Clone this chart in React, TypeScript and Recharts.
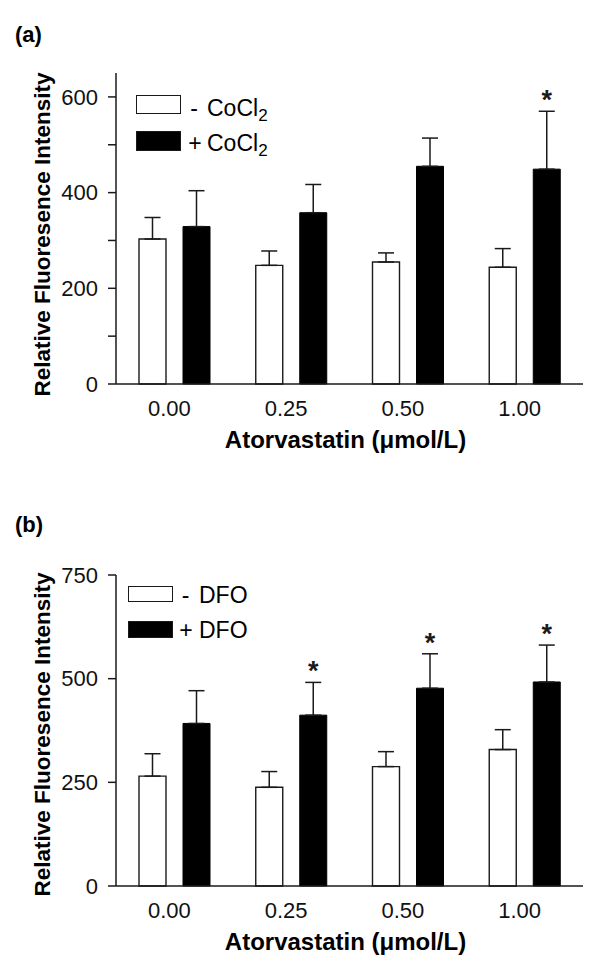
import React from 'react';
import { BarChart, Bar, XAxis, YAxis, ErrorBar, LabelList, Legend } from 'recharts';

// ---------- data ----------
const categories = ['0.00', '0.25', '0.50', '1.00'];

const cocl2Minus = [303, 248, 255, 244];
const cocl2MinusErr = [45, 30, 19, 39];
const cocl2Plus = [329, 358, 455, 449];
const cocl2PlusErr = [75, 59, 59, 121];
const cocl2Sig = [false, false, false, true];

const dfoMinus = [265, 238, 288, 329];
const dfoMinusErr = [54, 38, 36, 48];
const dfoPlus = [392, 412, 477, 492];
const dfoPlusErr = [79, 79, 83, 89];
const dfoSig = [false, true, true, true];

const yTicksA = [0, 100, 200, 300, 400, 500, 600];
const yLabelsA = [0, 200, 400, 600];
const yTicksB = [0, 250, 500, 750];
const yLabelsB = [0, 250, 500, 750];

const legendA = { minus: '-', plus: '+', name: 'CoCl', sub: '2' };
const legendB = { minus: '-', plus: '+', name: 'DFO', sub: '' };

// ---------- helpers ----------
const FONT = '"Liberation Sans", Arial, Helvetica, sans-serif';
const INK = '#1a1a1a';

function buildRows(minus: number[], minusErr: number[], plus: number[], plusErr: number[]) {
  return categories.map((cat, i) => ({
    cat,
    minus: minus[i],
    plus: plus[i],
    minusErr: [0, minusErr[i]],
    plusErr: [0, plusErr[i]],
  }));
}

function starRenderer(errs: number[], sig: boolean[]) {
  return (props: any) => {
    const vb = props.viewBox || {};
    const x = props.x ?? vb.x;
    const y = props.y ?? vb.y;
    const width = props.width ?? vb.width;
    const height = props.height ?? vb.height;
    const index = props.index;
    const value = props.value;
    if (index == null || !sig[index] || !value) return null;
    const pxPerUnit = Math.abs(height) / value;
    const capY = y - errs[index] * pxPerUnit;
    return (
      <text
        x={x + width / 2}
        y={capY - 2}
        textAnchor="middle"
        fontSize={27}
        fontWeight="bold"
        fontFamily={FONT}
        fill={INK}
      >
        *
      </text>
    );
  };
}

type LegendCfg = {
  boxLeft: number;
  boxW: number;
  row1Top: number;
  row1H: number;
  row2Top: number;
  row2H: number;
  textCenter1: number;
  textCenter2: number;
  minusCenter: number;
  plusCenter: number;
  nameLeft: number;
};

function makeLegend(labels: typeof legendA, cfg: LegendCfg) {
  return () => {
    const rows = [
      { fill: '#fff', top: cfg.row1Top, h: cfg.row1H, sign: labels.minus, sc: cfg.minusCenter, tc: cfg.textCenter1 },
      { fill: '#000', top: cfg.row2Top, h: cfg.row2H, sign: labels.plus, sc: cfg.plusCenter, tc: cfg.textCenter2 },
    ];
    return (
      <div style={{ position: 'relative', width: 600, height: 0, fontFamily: FONT, color: '#000' }}>
        {rows.map((r, i) => (
          <React.Fragment key={i}>
            <div
              style={{
                position: 'absolute',
                left: cfg.boxLeft,
                top: r.top,
                width: cfg.boxW,
                height: r.h,
                boxSizing: 'border-box',
                background: r.fill,
                border: `1.5px solid ${INK}`,
              }}
            />
            <div
              style={{
                position: 'absolute',
                left: r.sc - 15,
                width: 30,
                top: r.tc - 12,
                lineHeight: '24px',
                fontSize: 23,
                textAlign: 'center',
                whiteSpace: 'nowrap',
              }}
            >
              {r.sign}
            </div>
            <div
              style={{
                position: 'absolute',
                left: cfg.nameLeft,
                top: r.tc - 12,
                lineHeight: '24px',
                fontSize: 23,
                whiteSpace: 'nowrap',
              }}
            >
              {labels.name}
              {labels.sub ? (
                <span style={{ fontSize: 17, position: 'relative', top: 5 }}>{labels.sub}</span>
              ) : null}
            </div>
          </React.Fragment>
        ))}
      </div>
    );
  };
}

type PanelProps = {
  rows: any[];
  plusErrs: number[];
  sig: boolean[];
  yMax: number;
  yTicks: number[];
  yLabels: number[];
  legendLabels: typeof legendA;
  legendCfg: LegendCfg;
  yLabelShift: number;
};

function Panel({ rows, plusErrs, sig, yMax, yTicks, yLabels, legendLabels, legendCfg, yLabelShift }: PanelProps) {
  const tickStyle = { fontSize: 22, fill: '#111', fontFamily: FONT };
  const renderYLabel = (p: any) => {
    const vb = p.viewBox;
    const cx = vb.x + 42;
    const cy = vb.y + vb.height / 2 + yLabelShift;
    return (
      <text
        x={cx}
        y={cy}
        transform={`rotate(-90, ${cx}, ${cy})`}
        textAnchor="middle"
        dy="0.35em"
        fontSize={22.5}
        fontWeight="bold"
        fontFamily={FONT}
        fill="#000"
      >
        Relative Fluoresence Intensity
      </text>
    );
  };
  const renderXLabel = (p: any) => {
    const vb = p.viewBox;
    return (
      <text
        x={vb.x + vb.width / 2 - 4}
        y={vb.y + 56}
        dy="0.35em"
        textAnchor="middle"
        fontSize={24}
        fontWeight="bold"
        fontFamily={FONT}
        fill="#000"
      >
        Atorvastatin (μmol/L)
      </text>
    );
  };
  return (
    <BarChart
      width={600}
      height={470}
      data={rows}
      margin={{ top: 73, right: 17, bottom: 0, left: 0 }}
      barSize={27}
      barGap={17}
    >
      <XAxis
        dataKey="cat"
        tickLine={false}
        tickSize={0}
        tickMargin={16}
        tick={{ ...tickStyle, dx: -5 }}
        axisLine={{ stroke: INK, strokeWidth: 1.5 }}
        height={86}
        label={renderXLabel}
      />
      <XAxis
        xAxisId="top"
        orientation="top"
        dataKey="cat"
        tick={false}
        tickLine={false}
        height={0}
        axisLine={{ stroke: INK, strokeWidth: 1.5 }}
      />
      <YAxis
        domain={[0, yMax]}
        ticks={yTicks}
        interval={0}
        width={116}
        tickSize={8}
        tickMargin={10}
        tickFormatter={(v: number) => (yLabels.includes(v) ? String(v) : '')}
        tick={tickStyle}
        tickLine={{ stroke: INK, strokeWidth: 1.5 }}
        axisLine={{ stroke: INK, strokeWidth: 1.5 }}
        label={renderYLabel}
      />
      <YAxis
        yAxisId="right"
        orientation="right"
        domain={[0, yMax]}
        tick={false}
        tickLine={false}
        width={0}
        axisLine={{ stroke: INK, strokeWidth: 1.5 }}
      />
      <Legend
        layout="vertical"
        align="center"
        verticalAlign="middle"
        wrapperStyle={{ left: 0, top: 0, width: 600, height: 0 }}
        content={makeLegend(legendLabels, legendCfg)}
      />
      <Bar dataKey="minus" fill="#fff" stroke={INK} strokeWidth={1.4} isAnimationActive={false}>
        <ErrorBar dataKey="minusErr" direction="y" width={8} stroke={INK} strokeWidth={1.5} isAnimationActive={false} />
      </Bar>
      <Bar dataKey="plus" fill="#000" stroke="#000" strokeWidth={1} isAnimationActive={false}>
        <ErrorBar dataKey="plusErr" direction="y" width={8} stroke={INK} strokeWidth={1.5} isAnimationActive={false} />
        <LabelList dataKey="plus" content={starRenderer(plusErrs, sig)} />
      </Bar>
    </BarChart>
  );
}

const rowsA = buildRows(cocl2Minus, cocl2MinusErr, cocl2Plus, cocl2PlusErr);
const rowsB = buildRows(dfoMinus, dfoMinusErr, dfoPlus, dfoPlusErr);

export default function App() {
  return (
    <div
      style={{
        position: 'absolute',
        left: 0,
        top: 0,
        width: 600,
        height: 974,
        background: '#fff',
        fontFamily: FONT,
      }}
    >
      <div style={{ position: 'absolute', left: 15, top: 22, fontSize: 22, fontWeight: 'bold', lineHeight: '26px' }}>
        (a)
      </div>
      <div style={{ position: 'absolute', left: 15, top: 512, fontSize: 22, fontWeight: 'bold', lineHeight: '26px' }}>
        (b)
      </div>
      <div style={{ position: 'absolute', left: 0, top: 0 }}>
        <Panel
          rows={rowsA}
          plusErrs={cocl2PlusErr}
          sig={cocl2Sig}
          yMax={650}
          yTicks={yTicksA}
          yLabels={yLabelsA}
          legendLabels={legendA}
          yLabelShift={6}
          legendCfg={{
            boxLeft: 136,
            boxW: 45,
            row1Top: 95,
            row1H: 19,
            row2Top: 131,
            row2H: 20,
            textCenter1: 108,
            textCenter2: 143,
            minusCenter: 194,
            plusCenter: 195,
            nameLeft: 207,
          }}
        />
      </div>
      <div style={{ position: 'absolute', left: 0, top: 502 }}>
        <Panel
          rows={rowsB}
          plusErrs={dfoPlusErr}
          sig={dfoSig}
          yMax={750}
          yTicks={yTicksB}
          yLabels={yLabelsB}
          legendLabels={legendB}
          yLabelShift={4}
          legendCfg={{
            boxLeft: 128,
            boxW: 45,
            row1Top: 84,
            row1H: 16,
            row2Top: 119,
            row2H: 17,
            textCenter1: 93,
            textCenter2: 128,
            minusCenter: 185.5,
            plusCenter: 186,
            nameLeft: 199,
          }}
        />
      </div>
    </div>
  );
}
